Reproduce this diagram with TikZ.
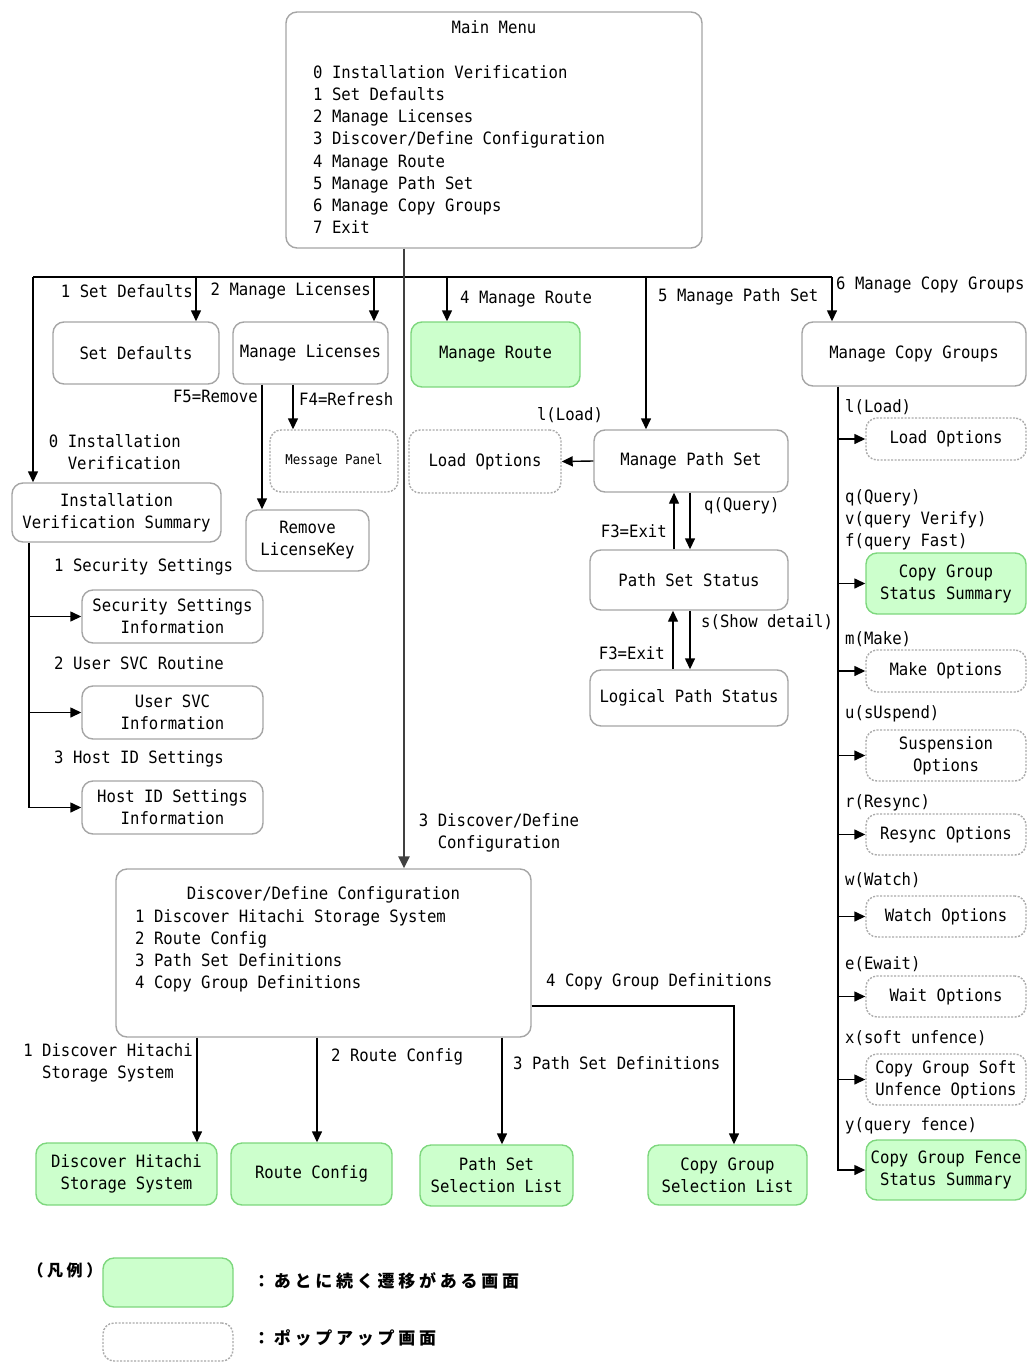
\documentclass[tikz,border=0pt]{standalone}
\usepackage{fontspec}
\usetikzlibrary{arrows.meta,calc}
\newfontfamily\gf[FakeStretch=0.92]{DejaVu Sans Mono}
\newfontfamily\jf[LetterSpace=22]{Noto Sans CJK JP}
\definecolor{gfill}{RGB}{204,255,204}
\definecolor{gline}{RGB}{125,215,125}
\definecolor{bline}{RGB}{165,165,165}
\definecolor{dline}{RGB}{170,170,170}
\begin{document}
\begin{tikzpicture}[x=1pt,y=-1pt,
  scr/.style={draw=bline,line width=1.4pt,rounded corners=11pt,fill=white,align=center,inner sep=1pt,font=\gf\fontsize{17}{22}\selectfont},
  grn/.style={scr,draw=gline,fill=gfill},
  pop/.style={scr,draw=dline,dash pattern=on 2pt off 1.5pt},
  txt/.style={font=\gf\fontsize{17}{22.2}\selectfont,inner sep=0pt},
  ln/.style={line width=1.4pt,black},
  arr/.style={ln,-{Triangle[length=11pt,width=10pt]}},
  mainln/.style={line width=2.6pt,black!75,-{Triangle[length=12pt,width=11pt]}},
  jtxt/.style={font=\jf\bfseries\fontsize{17}{20}\selectfont,inner sep=0pt}
]
\useasboundingbox (0,0) rectangle (1027,1362);
% helper columns
\foreach \x in {29,33,196,197,262,293,317,374,404,447,502,646,673,674,690,734,832,838}
  \coordinate (c\x) at (\x,0);
\coordinate (r1006) at (0,1006);

% Main menu
\node[scr,minimum width=416,minimum height=236] (mm) at (494,130) {};
\node[txt] (mmt) at (494,27) {Main Menu};
\node[txt,align=left,anchor=north west] (mml) at (313,65) {0 Installation Verification\\1 Set Defaults\\2 Manage Licenses\\3 Discover/Define Configuration\\4 Manage Route\\5 Manage Path Set\\6 Manage Copy Groups\\7 Exit};

% first row
\node[scr,minimum width=166,minimum height=62] (sd) at (136,353) {Set Defaults};
\node[scr,minimum width=155,minimum height=62] (ml) at (310.5,353) {Manage Licenses};
\node[grn,minimum width=169,minimum height=65] (mr) at (495.5,354.5) {Manage Route};
\node[scr,minimum width=224,minimum height=64] (mcg) at (914,354) {Manage Copy Groups};

\node[pop,minimum width=128,minimum height=62,font=\gf\fontsize{13.5}{16}\selectfont] (mp) at (334,461) {Message Panel};
\node[scr,minimum width=123,minimum height=61] (rlk) at (307.5,540.5) {Remove\\LicenseKey};
\node[scr,minimum width=209,minimum height=59] (ivs) at (116.5,512.5) {Installation\\Verification Summary};
\node[pop,minimum width=152,minimum height=63] (lo1) at (485,461.5) {Load Options};
\node[scr,minimum width=194,minimum height=62] (mps) at (691,461) {Manage Path Set};
\node[scr,minimum width=198,minimum height=60] (pss) at (689,580) {Path Set Status};
\node[scr,minimum width=198,minimum height=56] (lps) at (689,698) {Logical Path Status};

\node[scr,minimum width=181,minimum height=53] (ssi) at (172.5,616.5) {Security Settings\\Information};
\node[scr,minimum width=181,minimum height=53] (usi) at (172.5,712.5) {User SVC\\Information};
\node[scr,minimum width=181,minimum height=53] (hid) at (172.5,807.5) {Host ID Settings\\Information};

% right column
\node[pop,minimum width=160,minimum height=42] (lo2) at (946,439) {Load Options};
\node[grn,minimum width=160,minimum height=61] (cgss) at (946,583.5) {Copy Group\\Status Summary};
\node[pop,minimum width=160,minimum height=42] (mko) at (946,671) {Make Options};
\node[pop,minimum width=160,minimum height=51] (suo) at (946,755.5) {Suspension\\Options};
\node[pop,minimum width=160,minimum height=41] (rso) at (946,834.5) {Resync Options};
\node[pop,minimum width=160,minimum height=41] (wao) at (946,916.5) {Watch Options};
\node[pop,minimum width=160,minimum height=41] (wto) at (946,996.5) {Wait Options};
\node[pop,minimum width=160,minimum height=51] (cgsu) at (946,1079.5) {Copy Group Soft\\Unfence Options};
\node[grn,minimum width=160,minimum height=60] (cgfs) at (946,1170) {Copy Group Fence\\Status Summary};

% Discover/Define
\node[scr,minimum width=415,minimum height=168] (ddc) at (323.5,953) {};
\node[txt] (ddt) at (323.5,895) {Discover/Define Configuration};
\node[txt,align=left,anchor=north west] (ddl) at (135,909) {1 Discover Hitachi Storage System\\2 Route Config\\3 Path Set Definitions\\4 Copy Group Definitions};

\node[grn,minimum width=181,minimum height=62] (dhss) at (126.5,1174) {Discover Hitachi\\Storage System};
\node[grn,minimum width=161,minimum height=62] (rc) at (311.5,1174) {Route Config};
\node[grn,minimum width=153,minimum height=61] (pssl) at (496.5,1175.5) {Path Set\\Selection List};
\node[grn,minimum width=159,minimum height=60] (cgsl) at (727.5,1175) {Copy Group\\Selection List};

% bus and main line
\coordinate (busL) at (33,277);
\coordinate (busR) at (832,277);
\draw[ln] (busL) -- (busR);
\draw[mainln] (mm.south -| c404) -- (ddc.north -| c404);
\draw[arr] (busL) -- (ivs.north -| c33);
\draw[arr] (busL -| c196) -- (sd.north -| c196);
\draw[arr] (busL -| c374) -- (ml.north -| c374);
\draw[arr] (busL -| c447) -- (mr.north -| c447);
\draw[arr] (busL -| c646) -- (mps.north -| c646);
\draw[arr] (busR) -- (mcg.north -| c832);

% labels on bus branches
\node[txt,anchor=east] (l1) at (193,291) {1 Set Defaults};
\node[txt,anchor=east] (l2) at (371,291) {2 Manage Licenses};
\node[txt,anchor=west] (l4) at (460,299) {4 Manage Route};
\node[txt,anchor=west] (l5) at (658,297) {5 Manage Path Set};
\node[txt,anchor=west] (l6) at (836,285) {6 Manage Copy Groups};
\node[txt,align=right,anchor=east] (l0) at (181,452) {0 Installation\\Verification};
\node[txt,align=center] (l3) at (499,833) {3 Discover/Define\\Configuration};

% Manage Licenses
\draw[arr] (ml.south -| c262) -- (rlk.north -| c262);
\draw[arr] (ml.south -| c293) -- (mp.north -| c293);
\node[txt,anchor=east] (lf5) at (258,396) {F5=Remove};
\node[txt,anchor=west] (lf4) at (299,399) {F4=Refresh};

% Manage Path Set
\draw[arr] (mps.west) -- (lo1.east);
\node[txt] (lld) at (570,415) {l(Load)};
\draw[arr] (pss.north -| c674) -- (mps.south -| c674);
\draw[arr] (mps.south -| c690) -- (pss.north -| c690);
\draw[arr] (lps.north -| c673) -- (pss.south -| c673);
\draw[arr] (pss.south -| c690) -- (lps.north -| c690);
\node[txt,anchor=west] (lq) at (704,506) {q(Query)};
\node[txt,anchor=east] (lx1) at (667,531) {F3=Exit};
\node[txt,anchor=west] (ls) at (701,622) {s(Show detail)};
\node[txt,anchor=east] (lx2) at (665,653) {F3=Exit};

% Installation verification column
\draw[arr] (ivs.south -| c29) |- (hid.west);
\draw[arr] (ssi.west -| c29) -- (ssi.west);
\draw[arr] (usi.west -| c29) -- (usi.west);
\node[txt,anchor=west] (ls1) at (54,567) {1 Security Settings};
\node[txt,anchor=west] (ls2) at (54,663) {2 User SVC Routine};
\node[txt,anchor=west] (ls3) at (54,759) {3 Host ID Settings};

% Copy group column
\draw[arr] (mcg.south -| c838) |- (cgfs.west);
\foreach \n in {lo2,cgss,mko,suo,rso,wao,wto,cgsu}
  \draw[arr] (\n.west -| c838) -- (\n.west);
\node[txt,anchor=west] (rl1) at (845,407) {l(Load)};
\node[txt,anchor=west,align=left] (rl2) at (845,520) {q(Query)\\v(query Verify)\\f(query Fast)};
\node[txt,anchor=west] (rl3) at (845,639) {m(Make)};
\node[txt,anchor=west] (rl4) at (845,714) {u(sUspend)};
\node[txt,anchor=west] (rl5) at (845,803) {r(Resync)};
\node[txt,anchor=west] (rl6) at (845,880) {w(Watch)};
\node[txt,anchor=west] (rl7) at (845,964) {e(Ewait)};
\node[txt,anchor=west] (rl8) at (845,1038) {x(soft unfence)};
\node[txt,anchor=west] (rl9) at (845,1126) {y(query fence)};

% Discover/Define branches
\draw[arr] (ddc.south -| c197) -- (dhss.north -| c197);
\draw[arr] (ddc.south -| c317) -- (rc.north -| c317);
\draw[arr] (ddc.south -| c502) -- (pssl.north -| c502);
\draw[arr] (ddc.east |- r1006) -| (cgsl.north -| c734);
\node[txt,align=center] (ld1) at (108,1063) {1 Discover Hitachi\\Storage System};
\node[txt,anchor=west] (ld2) at (331,1057) {2 Route Config};
\node[txt,anchor=west] (ld3) at (513,1063) {3 Path Set Definitions};
\node[txt,anchor=west] (ld4) at (546,982) {4 Copy Group Definitions};

% legend
\node[jtxt,font=\jf\bfseries\fontsize{16}{20}\selectfont] (lgt) at (65,1270) {（凡例）};
\node[grn,minimum width=130,minimum height=49] (lgg) at (168,1282.5) {};
\node[pop,minimum width=130,minimum height=38] (lgp) at (168,1342) {};
\node[jtxt,anchor=west] (lgt1) at (253,1281) {：あとに続く遷移がある画面};
\node[jtxt,anchor=west] (lgt2) at (253,1338) {：ポップアップ画面};
\end{tikzpicture}
\end{document}
